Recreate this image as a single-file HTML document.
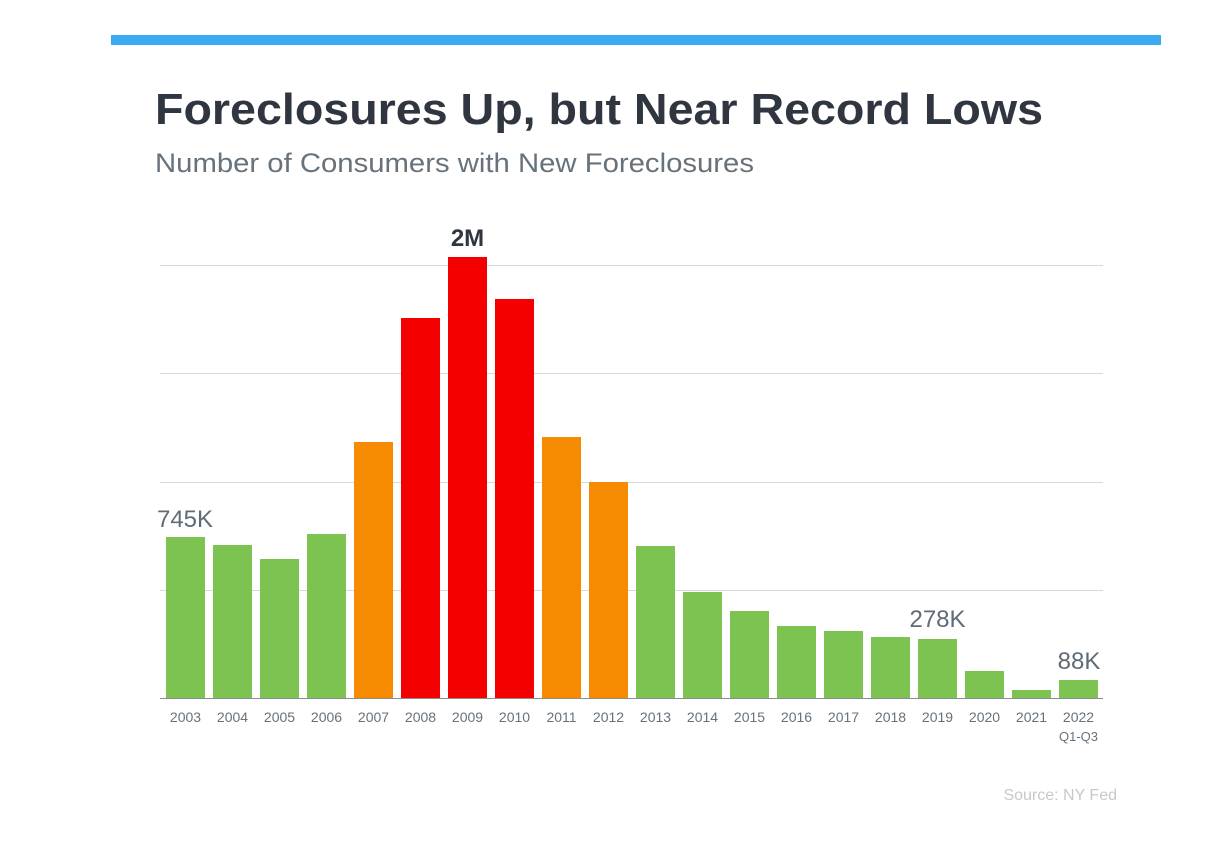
<!DOCTYPE html>
<html><head><meta charset="utf-8"><style>
body{margin:0;background:#fff;width:1231px;height:849px;overflow:hidden;font-family:"Liberation Sans",sans-serif}
</style></head><body>
<svg width="1231" height="849" xmlns="http://www.w3.org/2000/svg" font-family="Liberation Sans, sans-serif">
<rect x="111" y="35" width="1050" height="10" fill="#3aabf0"/>
<text x="155" y="124" font-size="44" font-weight="bold" fill="#2f3640" textLength="888" lengthAdjust="spacingAndGlyphs">Foreclosures Up, but Near Record Lows</text>
<text x="155" y="172" font-size="27" fill="#66727c" textLength="599" lengthAdjust="spacingAndGlyphs">Number of Consumers with New Foreclosures</text>
<g stroke="#d9d9d9" stroke-width="1">
<line x1="160" y1="265.5" x2="1103" y2="265.5"/>
<line x1="160" y1="373.5" x2="1103" y2="373.5"/>
<line x1="160" y1="482.5" x2="1103" y2="482.5"/>
<line x1="160" y1="590.5" x2="1103" y2="590.5"/>
</g>
<g>
<rect x="166" y="537" width="39" height="161" fill="#7dc352"/>
<rect x="213" y="545" width="39" height="153" fill="#7dc352"/>
<rect x="260" y="559" width="39" height="139" fill="#7dc352"/>
<rect x="307" y="534" width="39" height="164" fill="#7dc352"/>
<rect x="354" y="442" width="39" height="256" fill="#f68a00"/>
<rect x="401" y="318" width="39" height="380" fill="#f40000"/>
<rect x="448" y="257" width="39" height="441" fill="#f40000"/>
<rect x="495" y="299" width="39" height="399" fill="#f40000"/>
<rect x="542" y="437" width="39" height="261" fill="#f68a00"/>
<rect x="589" y="482" width="39" height="216" fill="#f68a00"/>
<rect x="636" y="546" width="39" height="152" fill="#7dc352"/>
<rect x="683" y="592" width="39" height="106" fill="#7dc352"/>
<rect x="730" y="611" width="39" height="87" fill="#7dc352"/>
<rect x="777" y="626" width="39" height="72" fill="#7dc352"/>
<rect x="824" y="631" width="39" height="67" fill="#7dc352"/>
<rect x="871" y="637" width="39" height="61" fill="#7dc352"/>
<rect x="918" y="639" width="39" height="59" fill="#7dc352"/>
<rect x="965" y="671" width="39" height="27" fill="#7dc352"/>
<rect x="1012" y="690" width="39" height="8" fill="#7dc352"/>
<rect x="1059" y="680" width="39" height="18" fill="#7dc352"/>
</g>
<line x1="160" y1="698.5" x2="1103" y2="698.5" stroke="#8c8c8c" stroke-width="1"/>
<g font-size="14" fill="#66727c" text-anchor="middle">
<text x="185.5" y="722">2003</text><text x="232.5" y="722">2004</text><text x="279.5" y="722">2005</text><text x="326.5" y="722">2006</text><text x="373.5" y="722">2007</text><text x="420.5" y="722">2008</text><text x="467.5" y="722">2009</text><text x="514.5" y="722">2010</text><text x="561.5" y="722">2011</text><text x="608.5" y="722">2012</text><text x="655.5" y="722">2013</text><text x="702.5" y="722">2014</text><text x="749.5" y="722">2015</text><text x="796.5" y="722">2016</text><text x="843.5" y="722">2017</text><text x="890.5" y="722">2018</text><text x="937.5" y="722">2019</text><text x="984.5" y="722">2020</text><text x="1031.5" y="722">2021</text><text x="1078.5" y="722">2022</text>
<text x="1078.5" y="741" font-size="13">Q1-Q3</text>
</g>
<text x="185" y="527" font-size="24" fill="#5f6b75" text-anchor="middle">745K</text>
<text x="467.5" y="246" font-size="24" font-weight="bold" fill="#2f3640" text-anchor="middle">2M</text>
<text x="937.5" y="627" font-size="24" fill="#5f6b75" text-anchor="middle">278K</text>
<text x="1079" y="669" font-size="24" fill="#5f6b75" text-anchor="middle">88K</text>
<text x="1117" y="800" font-size="16" fill="#c8c8c8" text-anchor="end">Source: NY Fed</text>
</svg>
</body></html>
